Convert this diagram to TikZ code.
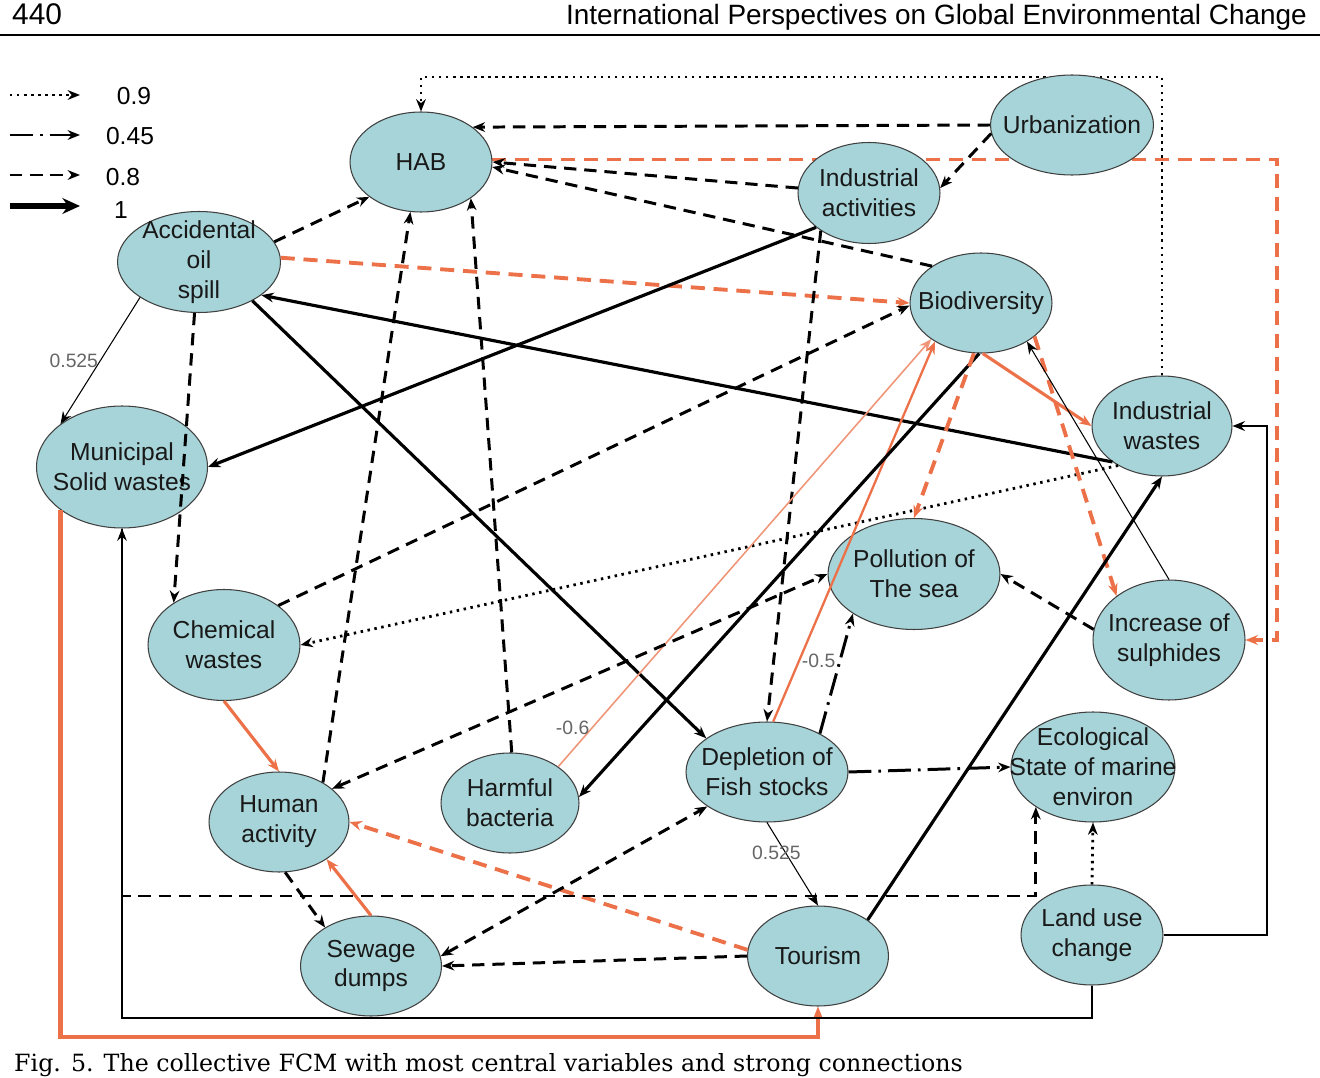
\documentclass[tikz,border=0pt]{standalone}
\usepackage{fontspec}
\setmainfont{Liberation Sans}
\newfontfamily\capfont{DejaVu Serif}
\usetikzlibrary{shapes.geometric, arrows.meta}
\pgfdeclarelayer{back}
\pgfsetlayers{back,main}

\definecolor{fcmteal}{RGB}{166,212,216}
\definecolor{fcmorange}{RGB}{236,112,72}
\definecolor{fcmsalmon}{RGB}{240,150,120}

\begin{document}
\begin{tikzpicture}[
    x=0.02cm, y=-0.02cm,
    >={Stealth[length=7pt,width=5.5pt]},
    concept/.style={ellipse, draw=black!75, line width=0.6pt, fill=fcmteal, inner sep=0pt},
    every label/.style={align=center, font=\fontsize{14}{17}\selectfont, text=black!90},
    legendtxt/.style={font=\fontsize{14}{17}\selectfont},
    weight/.style={font=\fontsize{11}{13}\selectfont, text=black!60, inner sep=1pt},
    w09/.style={->, line width=1.6pt, dash pattern=on 1.4pt off 2.6pt},
    w045/.style={->, line width=1.7pt, dash pattern=on 13pt off 4pt on 1.5pt off 4pt},
    w08/.style={->, line width=1.7pt, dash pattern=on 7pt off 4.5pt},
    w1/.style={->, line width=1.8pt},
    wthin/.style={->, line width=0.6pt},
    neg08/.style={->, fcmorange, line width=2.2pt, dash pattern=on 8pt off 5pt},
    neg1/.style={->, fcmorange, line width=1.8pt},
    negthin/.style={->, fcmsalmon, line width=0.9pt}
]
\useasboundingbox (0,0) rectangle (1320,1078);

% page header
\node[anchor=base west, font=\fontsize{17}{20}\selectfont] (pagenum) at (6,25) {440};
\node[anchor=base east, font=\fontsize{15.9}{18}\selectfont] (runhead) at (1313,25) {International Perspectives on Global Environmental Change};
\draw[line width=1.1pt] (0,35) -- (1320,35);

% concepts
\node[concept, minimum width=2.84cm, minimum height=2cm, label=center:HAB] (hab) at (421,162) {};
\node[concept, minimum width=3.26cm, minimum height=2cm, label=center:Urbanization] (urban) at (1072,125) {};
\node[concept, minimum width=2.84cm, minimum height=2.02cm, label={center:Industrial\\activities}] (indact) at (869,193) {};
\node[concept, minimum width=3.26cm, minimum height=2.02cm, label={center:Accidental\\oil\\spill}] (oilspill) at (199,262) {};
\node[concept, minimum width=2.84cm, minimum height=2cm, label=center:Biodiversity] (biodiv) at (981,303) {};
\node[concept, minimum width=2.8cm, minimum height=2cm, label={center:Industrial\\wastes}] (indwaste) at (1162,426) {};
\node[concept, minimum width=3.42cm, minimum height=2.44cm, label={center:Municipal\\Solid wastes}] (msw) at (122,467) {};
\node[concept, minimum width=3.44cm, minimum height=2.22cm, label={center:Pollution of\\The sea}] (pollution) at (914,574) {};
\node[concept, minimum width=3.04cm, minimum height=2.22cm, label={center:Chemical\\wastes}] (chemical) at (224,645) {};
\node[concept, minimum width=3.04cm, minimum height=2.4cm, label={center:Increase of\\sulphides}] (sulphides) at (1169,640) {};
\node[concept, minimum width=2.8cm, minimum height=2cm, label={center:Human\\activity}] (human) at (279,822) {};
\node[concept, minimum width=2.76cm, minimum height=2cm, label={center:Harmful\\bacteria}] (bacteria) at (510,803) {};
\node[concept, minimum width=3.24cm, minimum height=2cm, label={center:Depletion of\\Fish stocks}] (fishstock) at (767,772) {};
\node[concept, minimum width=3.28cm, minimum height=2.2cm, label={center:Ecological\\State of marine\\environ}] (ecostate) at (1093,767) {};
\node[concept, minimum width=2.82cm, minimum height=2cm, label={center:Sewage\\dumps}] (sewage) at (371,966) {};
\node[concept, minimum width=2.82cm, minimum height=2cm, label=center:Tourism] (tourism) at (818,956) {};
\node[concept, minimum width=2.84cm, minimum height=2cm, label={center:Land use\\change}] (landuse) at (1092,935) {};

% links running behind the concepts
\begin{pgfonlayer}{back}
\draw[w09] (indwaste.north) |- (hab.north |- 0,77) -- (hab.north);
\draw[neg08] (hab.2) -| (sulphides.east -| 1277,0) -- (sulphides.east);
\end{pgfonlayer}

% links into HAB
\draw[w08] (urban.west) -- (hab.34);
\draw[w08] (urban.186) -- (indact.4);
\draw[w08] (indact.176) -- (hab.0);
\draw[w08] (biodiv.143) -- (hab.-4);
\draw[w08] (oilspill.15) -- (hab.214);
\draw[w08] (human.42) -- (hab.258);
\draw[w08] (bacteria.88) -- (hab.324);

% upper links
\draw[neg08] (oilspill.3) -- (biodiv.180);
\draw[w1] (indact.213) -- (msw.east);
\draw[w08] (indact.218) -- (fishstock.north);
\draw[w1] (indwaste.216) -- (oilspill.332);
\draw[w1] (oilspill.324) -- (fishstock.151);
\draw[wthin] (oilspill.211) -- node[weight, pos=0.5, left] (w525a) {0.525} (msw.145);
\draw[w08] (oilspill.265) -- (chemical.140);
\draw[w08] (chemical.36) -- (biodiv.182);
\draw[w09] (indwaste.222) -- (chemical.east);

% links around biodiversity
\draw[negthin] (bacteria.37) -- node[weight, pos=0.09, left] (wneg06) {-0.6} (biodiv.216);
\draw[neg1, line width=1.3pt] (fishstock.83) -- node[weight, pos=0.16, right] (wneg05) {-0.5} (biodiv.220);
\draw[w1] (biodiv.268) -- (bacteria.5);
\draw[neg08] (biodiv.262) -- (pollution.north);
\draw[neg1] (biodiv.272) -- (indwaste.west);
\draw[neg08] (biodiv.328) -- (sulphides.140);
\draw[wthin] (sulphides.north) -- (biodiv.320);
\draw[w08] (sulphides.172) -- (pollution.east);
\draw[w1] (tourism.36) -- (indwaste.south);

% lower links
\draw[w08, <->] (human.32) -- (pollution.180);
\draw[w045] (fishstock.36) -- (pollution.213);
\draw[w045] (fishstock.east) -- (ecostate.west);
\draw[wthin] (fishstock.south) -- node[weight, pos=0.36, xshift=-0.18cm] (w525b) {0.525} (tourism.north);
\draw[w08] (tourism.west) -- (sewage.east);
\draw[neg08] (tourism.175) -- (human.east);
\draw[w08, <->] (sewage.8) -- (fishstock.210);
\draw[w08] (human.277) -- (sewage.140);
\draw[neg1] (sewage.north) -- (human.322);
\draw[neg1] (chemical.south) -- (human.north);
\draw[w09] (landuse.north) -- (ecostate.south);

% elbow links
\draw[w08] (msw.south) |- (ecostate.215 |- 0,896) -- (ecostate.215);
\draw[->, line width=1.2pt] (landuse.east) -| (indwaste.east -| 1267,0) -- (indwaste.east);
\draw[neg1, line width=2.6pt] (msw.215) |- (tourism.south |- 0,1037) -- (tourism.south);
\draw[wthin] (landuse.south) |- (msw.south |- 0,1018) -- (msw.south);

% legend
\coordinate (leg09) at (10,95);
\coordinate (leg045) at (10,135);
\coordinate (leg08) at (10,175);
\coordinate (leg1) at (10,206);
\draw[w09] (leg09) -- ++(70,0);
\draw[w045] (leg045) -- ++(70,0);
\draw[w08] (leg08) -- ++(70,0);
\draw[->, line width=3.2pt, >={Stealth[length=10pt,width=9pt]}] (leg1) -- ++(70,0);
\node[legendtxt] (key09) at (134,96) {0.9};
\node[legendtxt] (key045) at (130,136) {0.45};
\node[legendtxt] (key08) at (123,177) {0.8};
\node[legendtxt] (key1) at (121,210) {1};

% caption
\node[anchor=base west, font=\capfont\fontsize{13.5}{16}\selectfont] (caption) at (8,1071) {Fig. 5. The collective FCM with most central variables and strong connections};
\end{tikzpicture}
\end{document}
